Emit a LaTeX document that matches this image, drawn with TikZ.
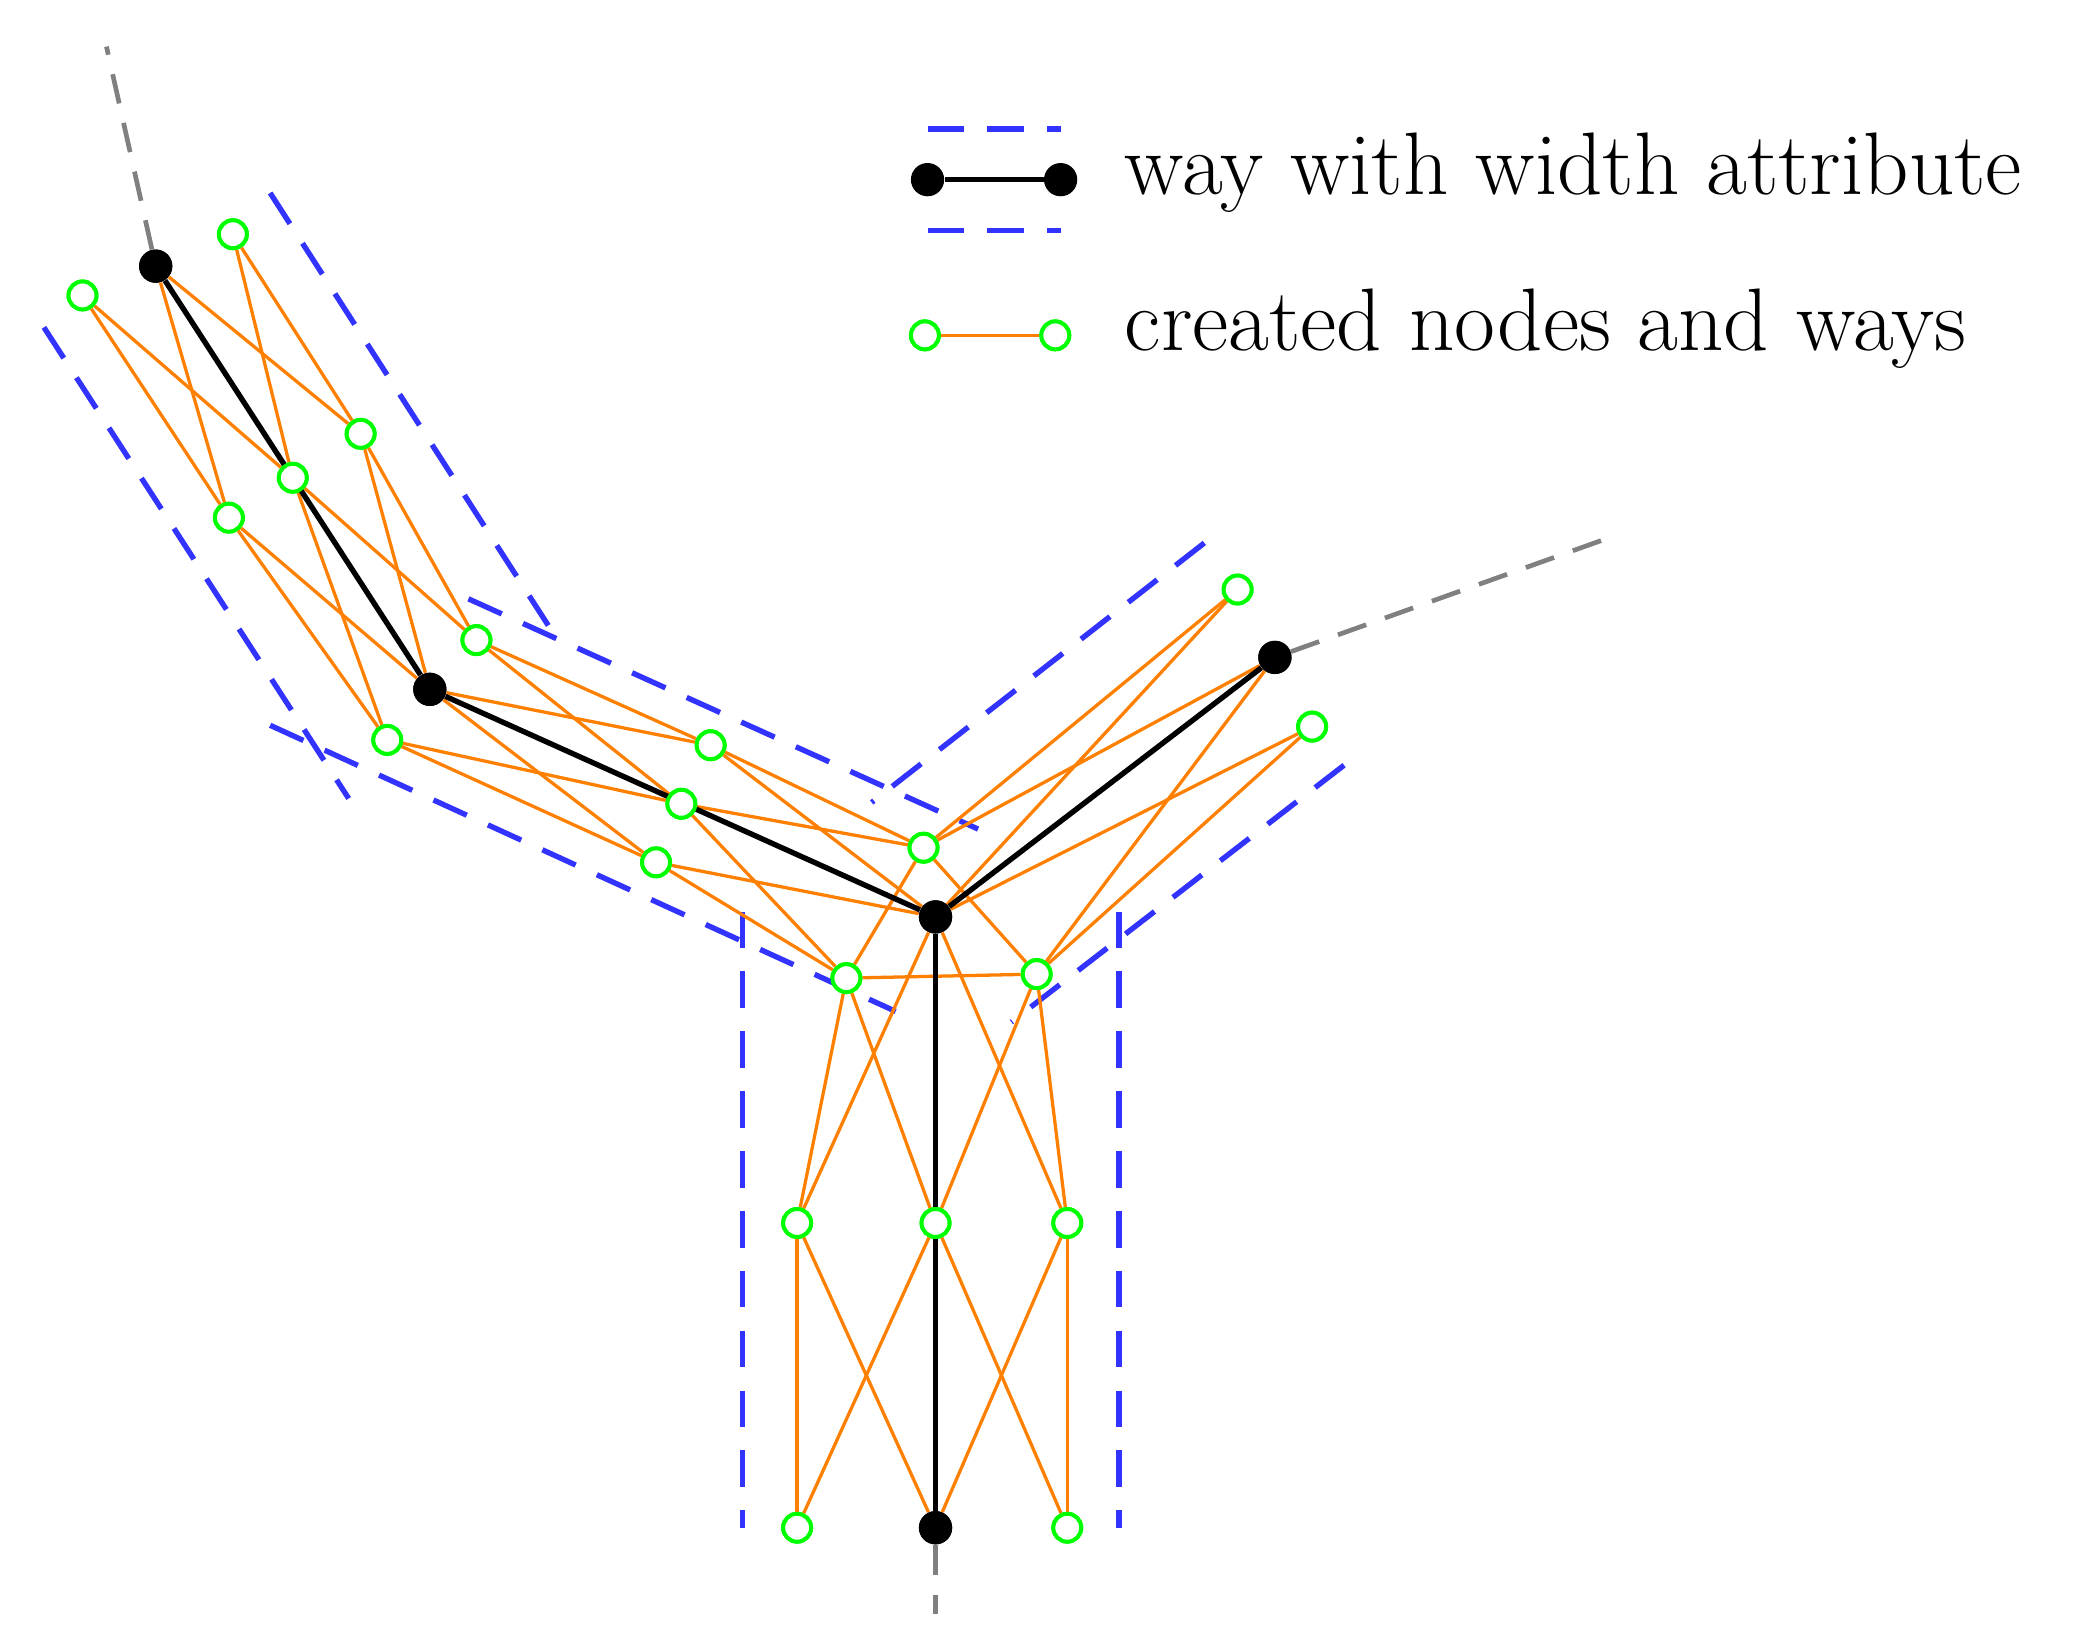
\documentclass[tikz,border=0pt]{standalone}
\begin{document}
\begin{tikzpicture}[x=0.02cm,y=-0.02cm,
  gn/.style={circle,draw=green,fill=white,line width=1.7pt,minimum size=0.42cm,inner sep=0pt},
  bn/.style={circle,fill=black,minimum size=0.5cm,inner sep=0pt},
  ow/.style={draw=orange,line width=1.4pt},
  bw/.style={draw=black,line width=2.3pt},
  bd/.style={draw=blue!80!white,line width=2.3pt,dash pattern=on 0.55cm off 0.35cm},
  gd/.style={draw=gray,line width=2pt,dash pattern=on 0.45cm off 0.3cm},
  lab/.style={anchor=west,font=\fontsize{38}{44}\selectfont,inner sep=0pt}]
\useasboundingbox (0,0) rectangle (1560,1233);
% nodes
\node[bn] (B1) at (117,200) {}; \node[bn] (B2) at (323,518) {};
\node[bn] (B3) at (703,689) {}; \node[bn] (B4) at (958,494) {};
\node[bn] (B5) at (703,1148) {};
\node[gn] (g1) at (62,222) {}; \node[gn] (g2) at (175,176) {};
\node[gn] (g3) at (220,359) {}; \node[gn] (g4) at (172,389) {};
\node[gn] (g5) at (271,326) {}; \node[gn] (g6) at (358,481) {};
\node[gn] (g7) at (291,556) {}; \node[gn] (g8) at (534,560) {};
\node[gn] (g9) at (512,604) {}; \node[gn] (g10) at (493,648) {};
\node[gn] (g11) at (694,637) {}; \node[gn] (g12) at (636,735) {};
\node[gn] (g13) at (779,732) {}; \node[gn] (g14) at (930,443) {};
\node[gn] (g15) at (986,546) {}; \node[gn] (g16) at (599,919) {};
\node[gn] (g17) at (703,919) {}; \node[gn] (g18) at (802,919) {};
\node[gn] (g19) at (599,1148) {}; \node[gn] (g20) at (802,1148) {};
% outline coordinates
\coordinate (o1) at (33,246); \coordinate (o2) at (262,600);
\coordinate (o3) at (203,545); \coordinate (o4) at (673,760);
\coordinate (o5) at (203,145); \coordinate (o6) at (412,470);
\coordinate (o7) at (352,450); \coordinate (o8) at (735,623);
\coordinate (o9) at (905,408); \coordinate (o10) at (655,603);
\coordinate (o11) at (1010,575); \coordinate (o12) at (760,768);
\coordinate (o13) at (558,685); \coordinate (o14) at (558,1148);
\coordinate (o15) at (841,685); \coordinate (o16) at (841,1148);
\coordinate (e1) at (80,35); \coordinate (e2) at (1215,402); \coordinate (e3) at (703,1213);
\foreach \a/\b in {o1/o2,o3/o4,o5/o6,o7/o8,o9/o10,o11/o12,o13/o14,o15/o16}
  \path[bd] (\a) -- (\b);
\path[gd] (B1) -- (e1); \path[gd] (B4) -- (e2); \path[gd] (B5) -- (e3);
\foreach \a/\b in {g1/g4,g4/g7,g2/g5,g5/g6,g1/g3,g3/g7,g4/B2,B1/g4,B1/g5,g2/g3,g3/g6,g5/B2,
  g7/g10,g10/g12,g6/g8,g8/g11,g7/g9,g10/B2,g6/g9,g8/B2,g10/B3,g9/g12,g9/g11,g8/B3,
  g14/g11,g15/g13,g14/B3,B4/g11,B4/g13,g15/B3,
  g11/g12,g11/g13,g12/g13,
  g12/g16,g16/g19,g13/g18,g18/g20,g12/g17,B3/g16,B3/g18,g13/g17,g16/B5,g17/g19,g17/g20,g18/B5}
  \path[ow] (\a) -- (\b);
\foreach \a/\b in {B1/B2,B2/B3,B4/B3,B3/B5}
  \path[bw] (\a) -- (\b);
\foreach \n in {g1,g2,g3,g4,g5,g6,g7,g8,g9,g10,g11,g12,g13,g14,g15,g16,g17,g18,g19,g20}
  \node[gn] at (\n) {};
\foreach \n in {B1,B2,B3,B4,B5} \node[bn] at (\n) {};
% legend
\coordinate (l1) at (697,97); \coordinate (l2) at (797,97);
\coordinate (l5) at (697,173); \coordinate (l6) at (797,173);
\path[bd] (l1) -- (l2); \path[bd] (l5) -- (l6);
\node[bn] (lb1) at (697,135) {}; \node[bn] (lb2) at (797,135) {};
\path[bw] (lb1) -- (lb2);
\node[gn] (lg1) at (695,252) {}; \node[gn] (lg2) at (793,252) {};
\path[ow] (lg1) -- (lg2);
\node[gn] at (lg1) {}; \node[gn] at (lg2) {};
\node[lab] (t1) at (845,130) {way with width attribute};
\node[lab] (t2) at (845,247) {created nodes and ways};
\end{tikzpicture}
\end{document}
